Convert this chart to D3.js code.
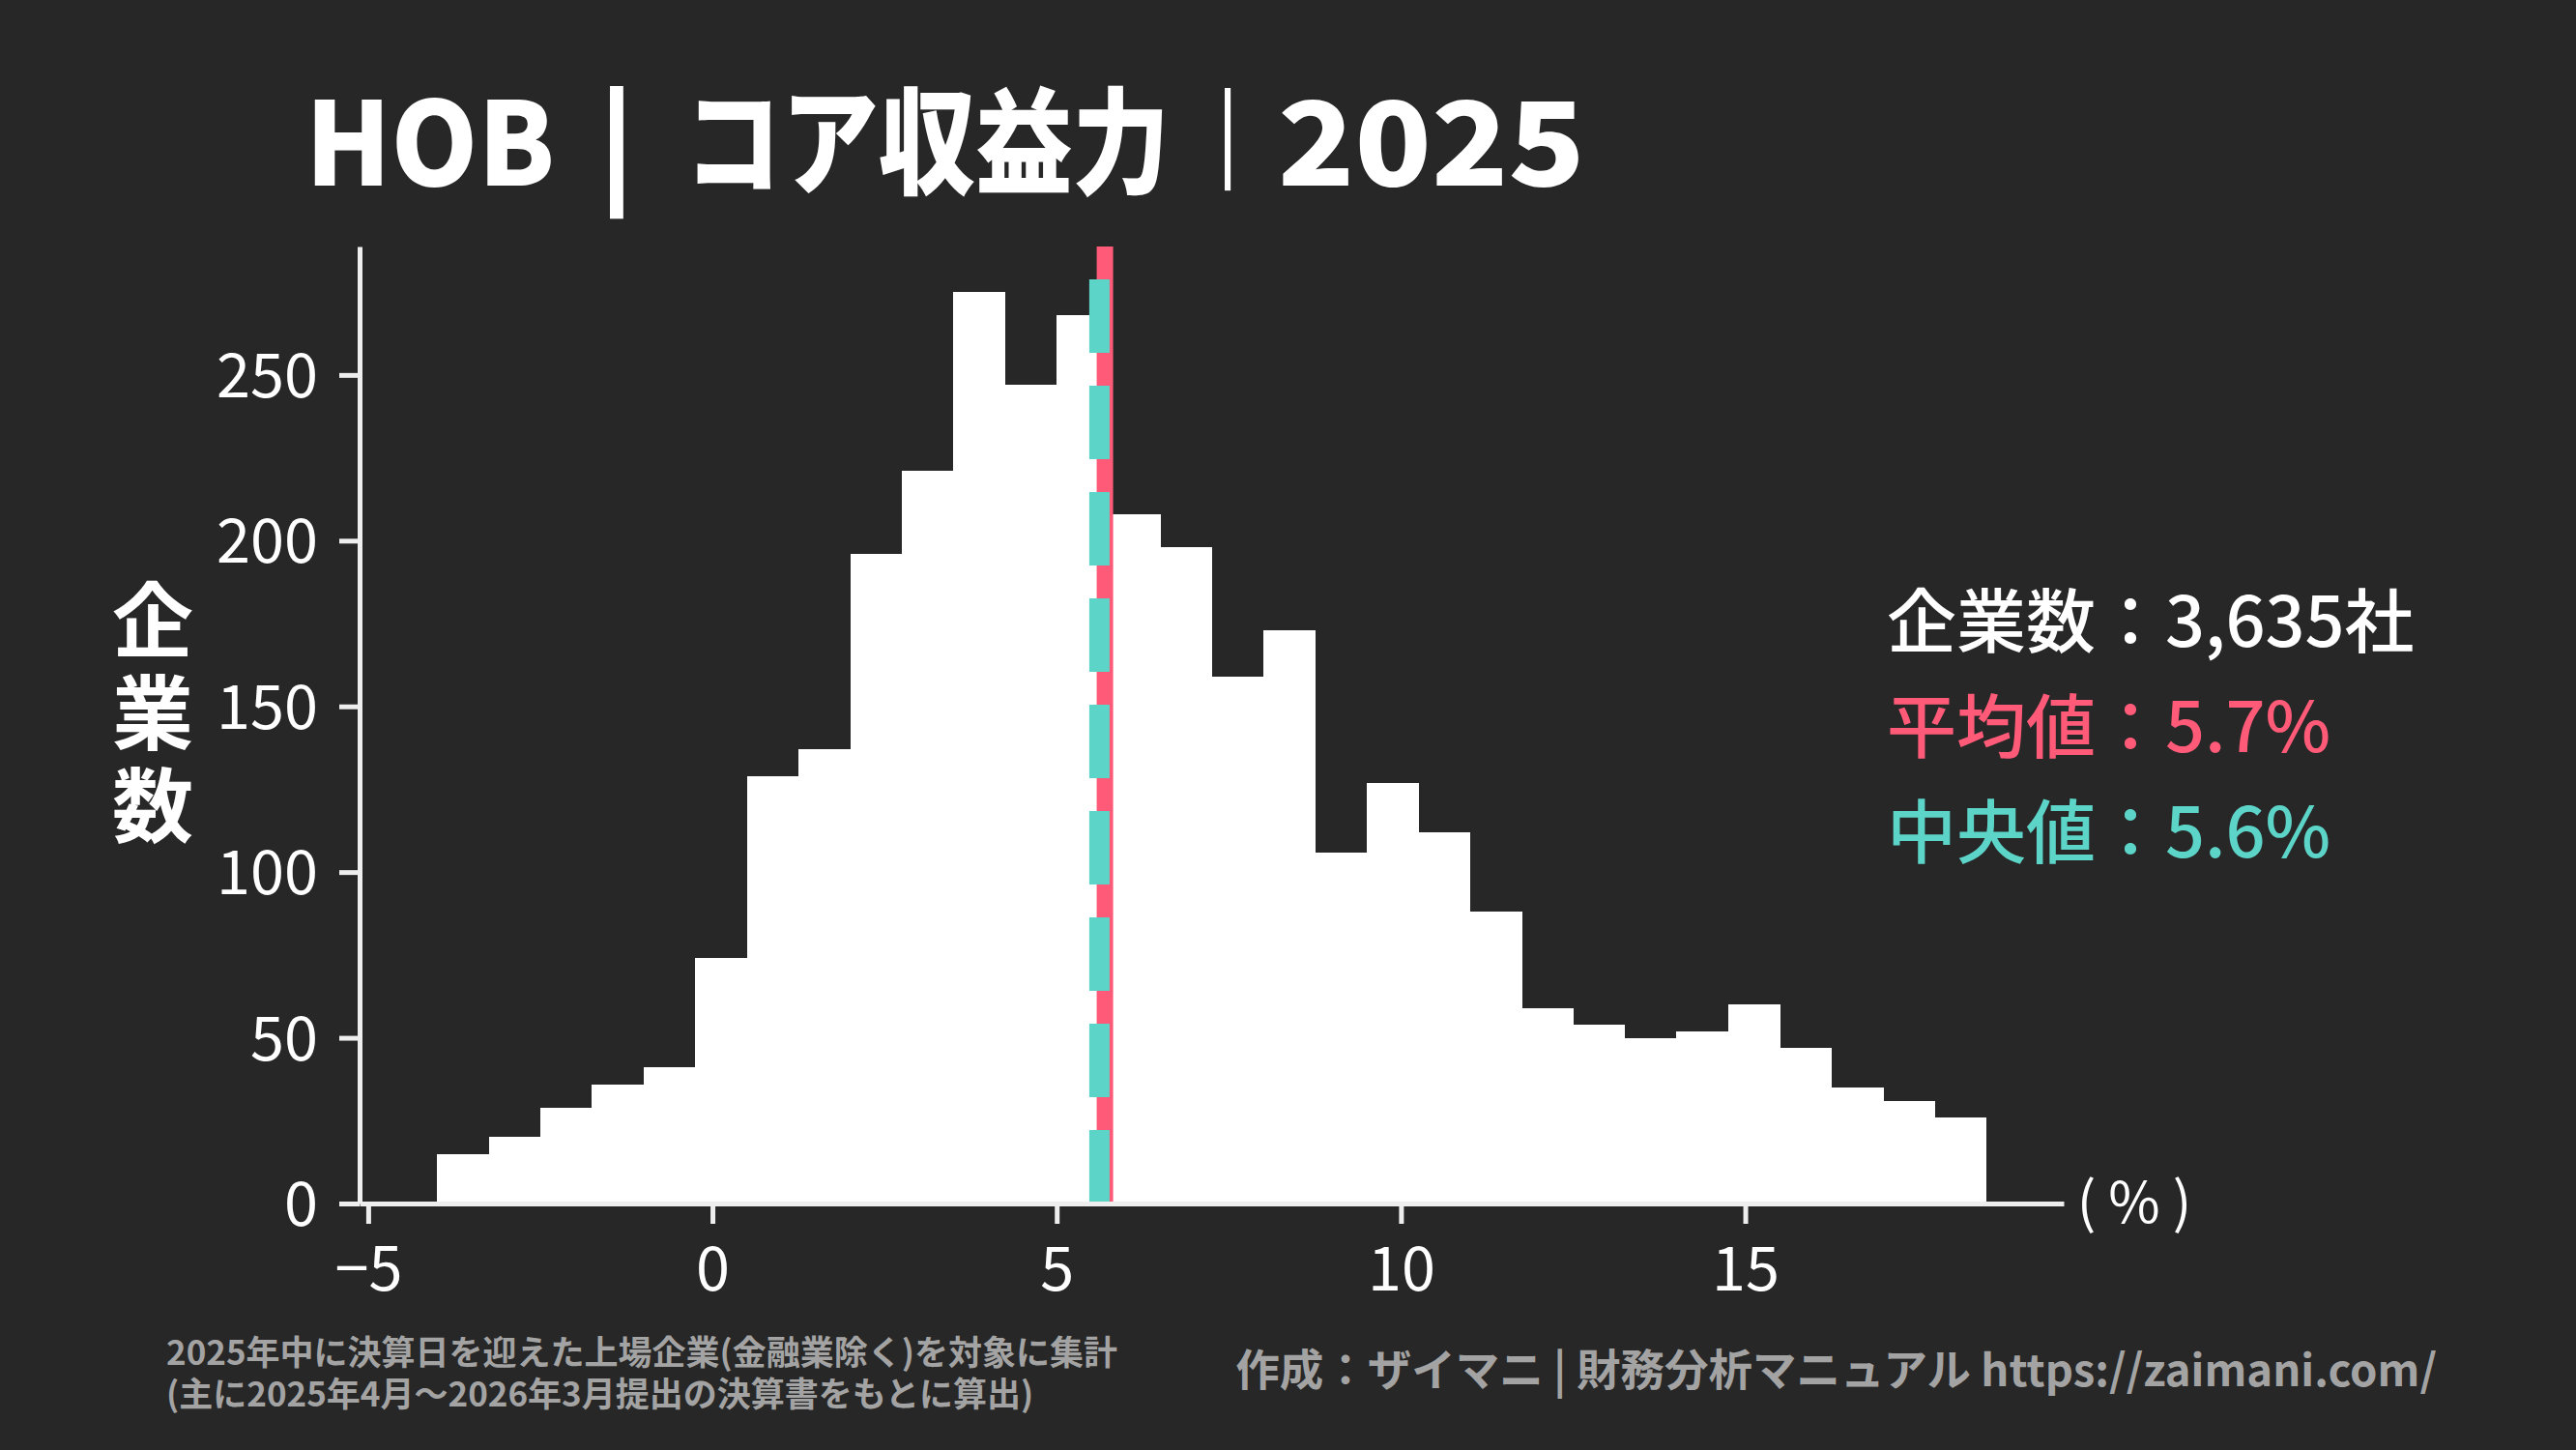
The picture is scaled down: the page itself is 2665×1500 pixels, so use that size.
<!DOCTYPE html>
<html>
<head>
<meta charset="utf-8">
<script src="https://cdn.jsdelivr.net/npm/d3@7"></script>
<style>
  html, body { margin: 0; padding: 0; background: #272727; }
  svg { display: block; }
  text { font-family: "Noto Sans CJK JP", "Noto Sans", sans-serif; }
</style>
</head>
<body>
<div id="chart"></div>
<script>
// histogram bins: left edges (%) and company counts
const binStarts = [-4, -3.25, -2.5, -1.75, -1, -0.25, 0.5, 1.25, 2, 2.75, 3.5, 4.25, 5, 5.75,
  6.5, 7.25, 8, 8.75, 9.5, 10.25, 11, 11.75, 12.5, 13.25, 14, 14.75, 15.5, 16.25, 17, 17.75];
const counts = [15, 20, 29, 36, 41, 74, 129, 137, 196, 221, 275, 247, 268, 208,
  198, 159, 173, 106, 127, 112, 88, 59, 54, 50, 52, 60, 47, 35, 31, 26];
const binWidth = 0.75;

const meanValue = 5.7;
const medianValue = 5.62;

const xTicks = [-5, 0, 5, 10, 15];
const yTicks = [0, 50, 100, 150, 200, 250];

// title pieces: text, left x, target width
const titleParts = [
  {t: "HOB", x: 316, len: 258},
  {t: "コア収益力", x: 708, len: 502},
  {t: "2025", x: 1322, len: 318}
];
const yLabel = "企業数";
const statLines = [
  {label: "企業数：3,635社", color: "#ffffff"},
  {label: "平均値：5.7%", color: "#ff5a78"},
  {label: "中央値：5.6%", color: "#5dd4c8"}
];
const noteLines = [
  "2025年中に決算日を迎えた上場企業(金融業除く)を対象に集計",
  "(主に2025年4月～2026年3月提出の決算書をもとに算出)"
];
const creditText = "作成：ザイマニ | 財務分析マニュアル https://zaimani.com/";

const W = 2665, H = 1500;
const margin = {top: 255, right: 530, bottom: 255, left: 372};

const svg = d3.select("#chart")
  .append("svg")
  .attr("width", W)
  .attr("height", H);

svg.append("rect").attr("width", W).attr("height", H).attr("fill", "#272727");

const x = d3.scaleLinear()
  .domain([-5.125, 19.625])
  .range([margin.left, W - margin.right]);

const y = d3.scaleLinear()
  .domain([0, 288.75])
  .range([H - margin.bottom, margin.top]);

const data = binStarts.map((s, i) => ({x0: s, x1: s + binWidth, n: counts[i]}));

// bars (step filled, no gaps)
svg.append("g")
  .selectAll("rect")
  .data(data)
  .join("rect")
  .attr("x", d => x(d.x0))
  .attr("width", d => x(d.x1) - x(d.x0) + 0.6)
  .attr("y", d => y(d.n))
  .attr("height", d => y(0) - y(d.n))
  .attr("fill", "#ffffff")
  .attr("shape-rendering", "crispEdges");

// mean line
svg.append("line")
  .attr("x1", x(meanValue)).attr("x2", x(meanValue))
  .attr("y1", y(0)).attr("y2", y(288.75))
  .attr("stroke", "#ff5a78")
  .attr("stroke-width", 17);

// median line (dash pattern starts from the bottom)
svg.append("line")
  .attr("x1", x(medianValue)).attr("x2", x(medianValue))
  .attr("y1", y(0)).attr("y2", y(288.75))
  .attr("stroke", "#5dd4c8")
  .attr("stroke-width", 21)
  .attr("stroke-dasharray", "76 34");

// axes
const axisColor = "#eeeeee";

const gx = svg.append("g")
  .attr("transform", `translate(0, ${y(0)})`)
  .call(d3.axisBottom(x).tickValues(xTicks).tickSize(21).tickSizeOuter(0).tickPadding(24)
    .tickFormat(d => d < 0 ? "\u2212" + Math.abs(d) : d));

const gy = svg.append("g")
  .attr("transform", `translate(${x(-5.125)}, 0)`)
  .call(d3.axisLeft(y).tickValues(yTicks).tickSize(21).tickSizeOuter(0).tickPadding(22));

[gx, gy].forEach(g => {
  g.select(".domain").attr("stroke", axisColor).attr("stroke-width", 5);
  g.selectAll(".tick line").attr("stroke", axisColor).attr("stroke-width", 5);
  g.selectAll(".tick text")
    .attr("fill", "#ffffff")
    .style("font-size", "63px")
    .style("font-family", "\"Noto Sans CJK JP\", sans-serif");
});
gy.selectAll(".tick text").attr("dy", "0.36em");

// unit label
svg.append("text")
  .attr("x", 2208)
  .attr("y", y(0))
  .attr("dy", "0.35em")
  .attr("text-anchor", "middle")
  .attr("fill", "#ffffff")
  .style("font-size", "58px")
  .text("( % )");

// y label, written vertically
svg.append("text")
  .attr("x", 158)
  .attr("y", 743)
  .attr("text-anchor", "middle")
  .attr("fill", "#ffffff")
  .style("writing-mode", "vertical-rl")
  .style("letter-spacing", "12px")
  .style("font-size", "84px")
  .style("font-weight", "bold")
  .text(yLabel);

// title: each piece stretched horizontally to the reference width
const gt = svg.append("g")
  .attr("fill", "#ffffff")
  .style("font-size", "120px")
  .style("font-weight", "900");

gt.selectAll("text.part")
  .data(titleParts)
  .join("text")
  .attr("class", "part")
  .text(d => d.t)
  .attr("transform", function(d) {
    const k = d.len / this.getComputedTextLength();
    return `translate(${d.x}, 192) scale(${k}, 1)`;
  });

gt.append("text")
  .attr("x", 638).attr("y", 192)
  .attr("text-anchor", "middle")
  .text("|");

gt.append("text")
  .attr("x", 1270).attr("y", 171)
  .attr("text-anchor", "middle")
  .style("font-size", "95px")
  .style("font-weight", "400")
  .text("|");

// stats block
svg.append("g")
  .selectAll("text")
  .data(statLines)
  .join("text")
  .attr("x", 1952)
  .attr("y", (d, i) => 637 + i * 109)
  .attr("dominant-baseline", "central")
  .attr("fill", d => d.color)
  .style("font-size", "72px")
  .style("font-weight", "500")
  .text(d => d.label);

// notes bottom left (two lines)
svg.append("text")
  .attr("fill", "#a3a3a3")
  .style("font-size", "35px")
  .style("font-weight", "bold")
  .selectAll("tspan")
  .data(noteLines)
  .join("tspan")
  .attr("x", 172)
  .attr("y", (d, i) => 1412 + i * 43)
  .text(d => d);

// credit bottom right
svg.append("text")
  .attr("x", 2521)
  .attr("y", 1434)
  .attr("text-anchor", "end")
  .attr("fill", "#a3a3a3")
  .style("font-size", "45.5px")
  .style("font-weight", "bold")
  .text(creditText);
</script>
</body>
</html>
